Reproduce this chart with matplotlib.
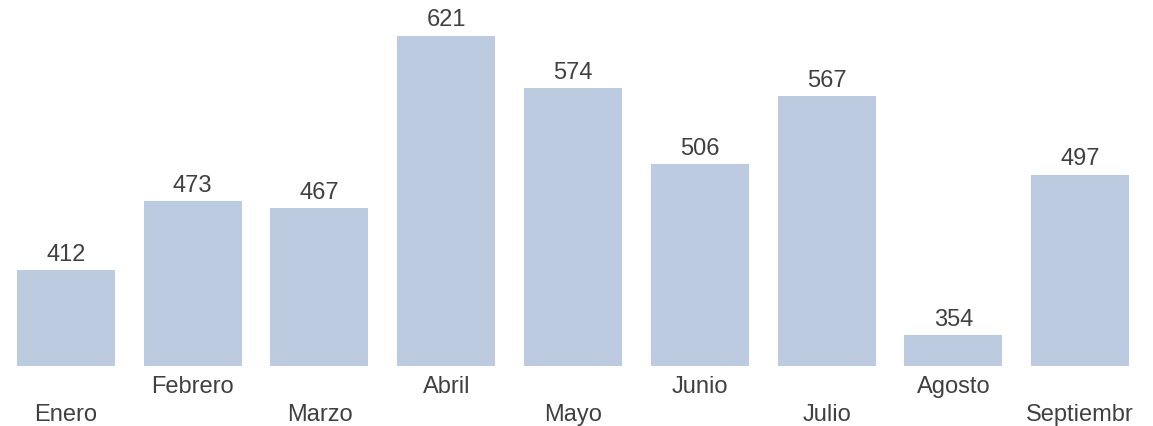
import matplotlib
matplotlib.use("Agg")
import matplotlib.pyplot as plt

MONTHS = ["Enero", "Febrero", "Marzo", "Abril", "Mayo", "Junio", "Julio", "Agosto", "Septiembr"]
VALUES = [412, 473, 467, 621, 574, 506, 567, 354, 497]

BAR_COLOUR = "#bdcbe1"
TEXT_COLOUR = "#404040"

plt.rcParams["font.family"] = ["Liberation Sans", "DejaVu Sans"]

fig = plt.figure(figsize=(11.53, 4.26), dpi=100)
ax = fig.add_axes([2.6 / 1153, 60.5 / 426, 1140.8 / 1153, 365.5 / 426])

xs = list(range(len(MONTHS)))
bars = ax.bar(xs, VALUES, width=0.773, color=BAR_COLOUR)
ax.bar_label(bars, padding=3, fontsize=17, color=TEXT_COLOUR)

ax.set_xlim(-0.5, len(MONTHS) - 0.5)
ax.set_ylim(326.5, 652.8)

ax.set_xticks(xs)
ax.set_xticklabels(MONTHS, fontsize=17, color=TEXT_COLOUR)
ax.tick_params(axis="x", length=0)
# stagger the month labels: even index low, odd index high
for i, tick in enumerate(ax.xaxis.get_major_ticks()):
    tick.set_pad(27.5 if i % 2 == 0 else 7.5)

ax.set_yticks([])
for side in ax.spines.values():
    side.set_visible(False)

fig.savefig("out.png", dpi=100)
